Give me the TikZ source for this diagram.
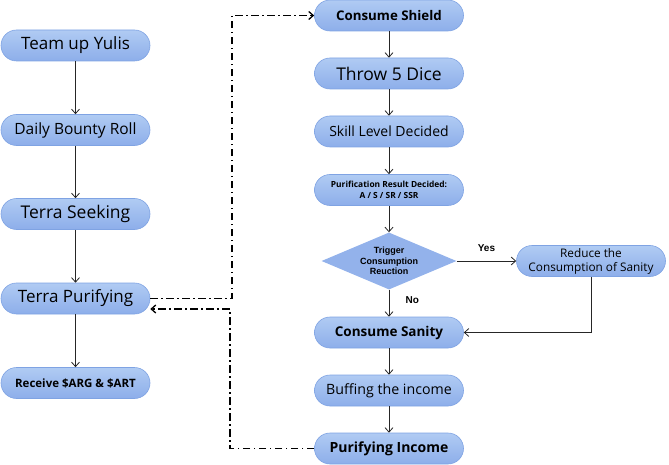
\documentclass[tikz,border=0pt]{standalone}
\usepackage{fontspec}
\setmainfont{Open Sans}
\newfontfamily\arialfont{Liberation Sans}
\usetikzlibrary{shapes.geometric,arrows.meta}
\definecolor{boxtop}{HTML}{B0CBF3}
\definecolor{boxbot}{HTML}{8DAEEA}
\definecolor{boxline}{HTML}{7FA3E3}
\tikzset{
  stepbox/.style={rectangle, rounded corners=15.5pt, draw=boxline, line width=0.6pt,
    top color=boxtop, bottom color=boxbot, minimum width=149pt, minimum height=31pt,
    inner sep=1pt, align=center, text=black},
  choice/.style={diamond, fill=boxbot!95!white, aspect=2.35, minimum width=135pt,
    minimum height=57pt, inner sep=0pt, align=center, font=\arialfont\bfseries\fontsize{9}{10.5}\selectfont},
  link/.style={->, line width=0.8pt, draw=black!85},
  jump/.style={->, line width=1.3pt, dash pattern=on 7.5pt off 3.5pt on 1.5pt off 3.5pt},
  tag/.style={font=\arialfont\bfseries\fontsize{10}{12}\selectfont}
}
\begin{document}
\begin{tikzpicture}[x=1pt, y=-1pt, >={Straight Barb[length=4.5pt,width=8pt]}]
    \useasboundingbox (0,0) rectangle (669,465);

    % left column
    \node[stepbox, font=\fontsize{17}{19}\selectfont] (yulis) at (75.5,45.5) {Team up Yulis};
    \node[stepbox, font=\fontsize{15.5}{17}\selectfont] (bounty) at (75.5,130) {Daily Bounty Roll};
    \node[stepbox, font=\fontsize{17.5}{19}\selectfont] (seek) at (75.5,214) {Terra Seeking};
    \node[stepbox, font=\fontsize{17}{19}\selectfont] (purify) at (75.5,298.5) {Terra Purifying};
    \node[stepbox, font=\bfseries\fontsize{11.5}{13}\selectfont] (receive) at (75.5,383) {Receive \$ARG \& \$ART};

    % right column
    \node[stepbox, font=\bfseries\fontsize{13.3}{15}\selectfont] (shield) at (389,15.5) {Consume Shield};
    \node[stepbox, font=\fontsize{17.5}{19}\selectfont] (dice) at (389,73.5) {Throw 5 Dice};
    \node[stepbox, font=\fontsize{14}{16}\selectfont] (skill) at (389,131.5) {Skill Level Decided};
    \node[stepbox, font=\bfseries\fontsize{8.4}{10.5}\selectfont] (result) at (389,190) {Purification Result Decided:\\A / S / SR / SSR};
    \node[choice] (trigger) at (389,261) {Trigger\\Consumption\\Reuction};
    \node[stepbox, font=\fontsize{11.8}{14}\selectfont] (reduce) at (591,261) {Reduce the\\Consumption of Sanity};
    \node[stepbox, font=\bfseries\fontsize{13.5}{15}\selectfont] (sanity) at (389,332.5) {Consume Sanity};
    \node[stepbox, font=\fontsize{14.2}{16}\selectfont] (buff) at (389,390.5) {Buffing the income};
    \node[stepbox, font=\bfseries\fontsize{14}{16}\selectfont] (income) at (389,448.5) {Purifying Income};

    \draw[link] (yulis) -- (bounty);
    \draw[link] (bounty) -- (seek);
    \draw[link] (seek) -- (purify);
    \draw[link] (purify) -- (receive);

    \draw[link] (shield) -- (dice);
    \draw[link] (dice) -- (skill);
    \draw[link] (skill) -- (result);
    \draw[link] (result) -- (trigger);
    \draw[link] (trigger) -- node[tag, right=13pt, pos=0.4] {No} (sanity);
    \draw[link] (trigger) -- node[tag, above=6pt, pos=0.5] {Yes} (reduce);
    \draw[link] (reduce.south) |- (sanity.east);
    \draw[link] (sanity) -- (buff);
    \draw[link] (buff) -- (income);

    % dash-dot jumps between the columns
    \draw[jump] (purify.east) -| (232,15.5) -- (shield.west);
    \draw[jump] (income.west) -| (230,309) -- ([yshift=-10.5pt]purify.east);
\end{tikzpicture}
\end{document}
